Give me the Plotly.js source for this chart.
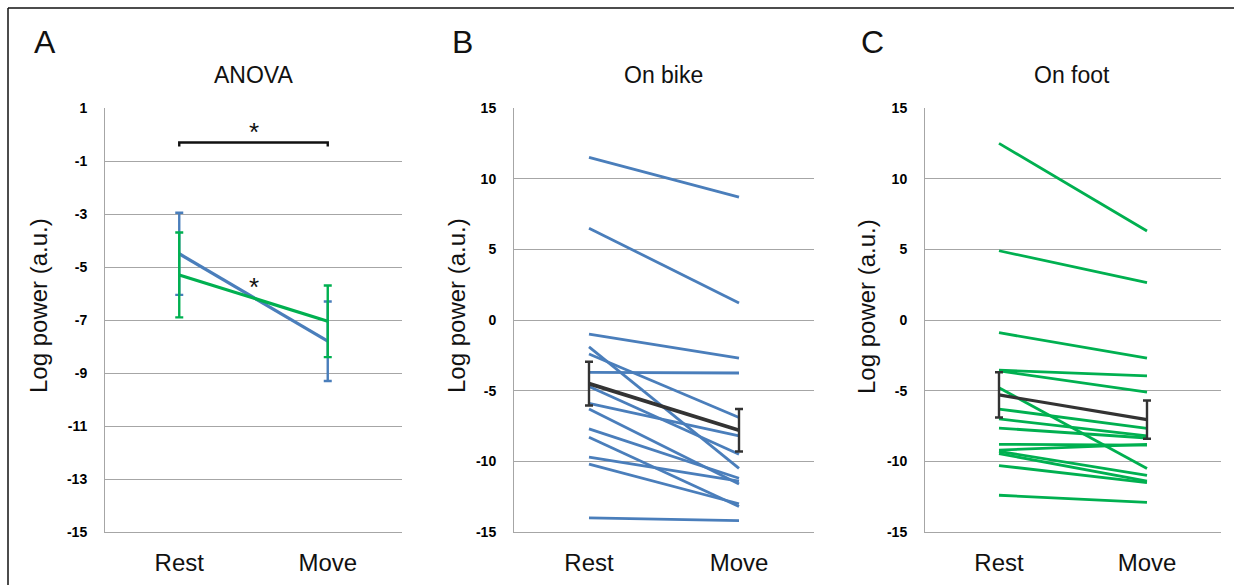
<!DOCTYPE html>
<html>
<head>
<meta charset="utf-8">
<script src="https://cdn.plot.ly/plotly-3.0.1.min.js"></script>
<style>html,body{margin:0;padding:0;background:#fff;}#chart{width:1234px;height:585px;}</style>
</head>
<body>
<div id="chart"></div>
<script>
// ---- data ----
const categories = ["Rest", "Move"];
const panelTitles = ["ANOVA", "On bike", "On foot"];
const panelLetters = ["A", "B", "C"];
const yTitle = "Log power (a.u.)";

// Panel A (ANOVA) group means and error
const anovaBikeMean = [-4.5, -7.8];
const anovaBikeErr = [1.55, 1.5];
const anovaFootMean = [-5.3, -7.05];
const anovaFootErr = [1.6, 1.35];
const sigBarY = -0.3;

// Panel B: on bike, per subject
const bikeRest = [11.5, 6.5, -1.0, -1.9, -2.4, -3.7, -4.7, -5.9, -6.3, -7.7, -8.3, -9.7, -10.2, -14.0];
const bikeMove = [8.7, 1.2, -2.7, -10.5, -6.9, -3.75, -9.5, -8.2, -11.6, -11.2, -13.2, -11.4, -13.0, -14.2];

// Panel C: on foot, per subject
const footRest = [12.5, 4.9, -0.9, -3.55, -3.6, -4.8, -6.3, -7.0, -7.65, -8.8, -9.2, -9.3, -9.45, -10.3, -12.4];
const footMove = [6.3, 2.65, -2.7, -3.95, -5.1, -10.5, -7.67, -8.2, -8.35, -8.85, -8.8, -11.0, -11.4, -11.5, -12.9];

const ticksA = [1, -1, -3, -5, -7, -9, -11, -13, -15];
const ticksBC = [15, 10, 5, 0, -5, -10, -15];

// ---- styles ----
const BLUE = "#4A7EBB";
const GREEN = "#00B050";
const DARK = "#333333";
const GRID = "#a6a6a6";

const traces = [];
function indiv(rest, move, color, xa, ya) {
  for (let i = 0; i < rest.length; i++) {
    traces.push({x: categories, y: [rest[i], move[i]], xaxis: xa, yaxis: ya, type: "scatter",
      mode: "lines", line: {color: color, width: 2.8}, hoverinfo: "skip", showlegend: false});
  }
}
function meanTrace(mean, err, color, xa, ya, w) {
  traces.push({x: categories, y: mean, xaxis: xa, yaxis: ya, type: "scatter", mode: "lines",
    line: {color: color, width: w}, showlegend: false, hoverinfo: "skip",
    error_y: {type: "data", array: err, visible: true, color: color, thickness: 2.4, width: 4}});
}

// Panel A
meanTrace(anovaBikeMean, anovaBikeErr, BLUE, "x", "y", 3.2);
meanTrace(anovaFootMean, anovaFootErr, GREEN, "x", "y", 3.2);
traces.push({x: [categories[0], categories[0], categories[1], categories[1]],
  y: [sigBarY - 0.15, sigBarY, sigBarY, sigBarY - 0.15], xaxis: "x", yaxis: "y",
  type: "scatter", mode: "lines", line: {color: "#111", width: 2.4}, showlegend: false, hoverinfo: "skip"});

// Panel B
indiv(bikeRest, bikeMove, BLUE, "x2", "y2");
meanTrace(anovaBikeMean, anovaBikeErr, DARK, "x2", "y2", 3.8);
// Panel C
indiv(footRest, footMove, GREEN, "x3", "y3");
meanTrace(anovaFootMean, anovaFootErr, DARK, "x3", "y3", 3.2);

const W = 1234, H = 585;
const F = "Liberation Sans, Arial, sans-serif";
const yDom = [1 - 532 / H, 1 - 108 / H];
function xax(d0, d1) {
  return {domain: [d0 / W, d1 / W], type: "category", range: [-0.5, 1.5], showgrid: false,
    showline: true, linecolor: GRID, linewidth: 1, zeroline: false,
    ticks: "outside", ticklen: 9, tickcolor: "rgba(0,0,0,0)",
    tickfont: {family: F, size: 24, color: "#111"}};
}
function yax(ticks, range) {
  return {domain: yDom, range: range, tickmode: "array", tickvals: ticks, ticktext: ticks.map(v => String(v)),
    showgrid: true, gridcolor: GRID, gridwidth: 1, showline: true, linecolor: GRID, linewidth: 1,
    zeroline: false, ticks: "outside", ticklen: 14, tickcolor: "rgba(0,0,0,0)",
    tickfont: {family: F, size: 14, color: "#000", weight: "bold"}};
}

const annotations = [];
const titleX = [253, 663, 1072];
const letterX = [45, 462, 872];
const yTitleX = [38, 456, 866];
for (let i = 0; i < 3; i++) {
  annotations.push({xref: "paper", yref: "paper", x: titleX[i] / W, y: 1 - 75 / H, text: panelTitles[i],
    showarrow: false, xanchor: "center", yanchor: "middle", font: {family: F, size: 23, color: "#111"}});
  annotations.push({xref: "paper", yref: "paper", x: letterX[i] / W, y: 1 - 42 / H, text: panelLetters[i],
    showarrow: false, xanchor: "center", yanchor: "middle", font: {family: F, size: 32, color: "#111"}});
  annotations.push({xref: "paper", yref: "paper", x: yTitleX[i] / W, y: 1 - 306 / H, text: yTitle, textangle: -90,
    showarrow: false, xanchor: "center", yanchor: "middle", font: {family: F, size: 24, color: "#111"}});
}
// significance stars in panel A
annotations.push({xref: "x", yref: "y", x: 0.5, y: sigBarY, text: "*", showarrow: false, yanchor: "bottom",
  yshift: -7, font: {family: F, size: 26, color: "#111"}});
annotations.push({xref: "x", yref: "y", x: 0.5, y: (anovaBikeMean[0] + anovaBikeMean[1]) / 2, text: "*", showarrow: false,
  yanchor: "bottom", yshift: -7, font: {family: F, size: 26, color: "#111"}});

const layout = {
  width: W, height: H, margin: {l: 0, r: 0, t: 0, b: 0}, paper_bgcolor: "#fff", plot_bgcolor: "#fff",
  showlegend: false,
  xaxis: xax(105, 402), yaxis: yax(ticksA, [-15, 1]),
  xaxis2: xax(514, 814), yaxis2: Object.assign(yax(ticksBC, [-15, 15]), {anchor: "x2"}),
  xaxis3: xax(925, 1221), yaxis3: Object.assign(yax(ticksBC, [-15, 15]), {anchor: "x3"}),
  annotations: annotations,
  shapes: [
    {type: "line", xref: "paper", yref: "paper", x0: 8 / W, x1: 1, y0: 1 - 8 / H, y1: 1 - 8 / H, line: {color: "#111", width: 1.5}},
    {type: "line", xref: "paper", yref: "paper", x0: 8 / W, x1: 8 / W, y0: 0, y1: 1 - 8 / H, line: {color: "#111", width: 1.5}}
  ]
};
layout.xaxis.anchor = "y"; layout.xaxis2.anchor = "y2"; layout.xaxis3.anchor = "y3";
layout.yaxis.anchor = "x";
Plotly.newPlot("chart", traces, layout, {displayModeBar: false, staticPlot: true});
</script>
</body>
</html>
